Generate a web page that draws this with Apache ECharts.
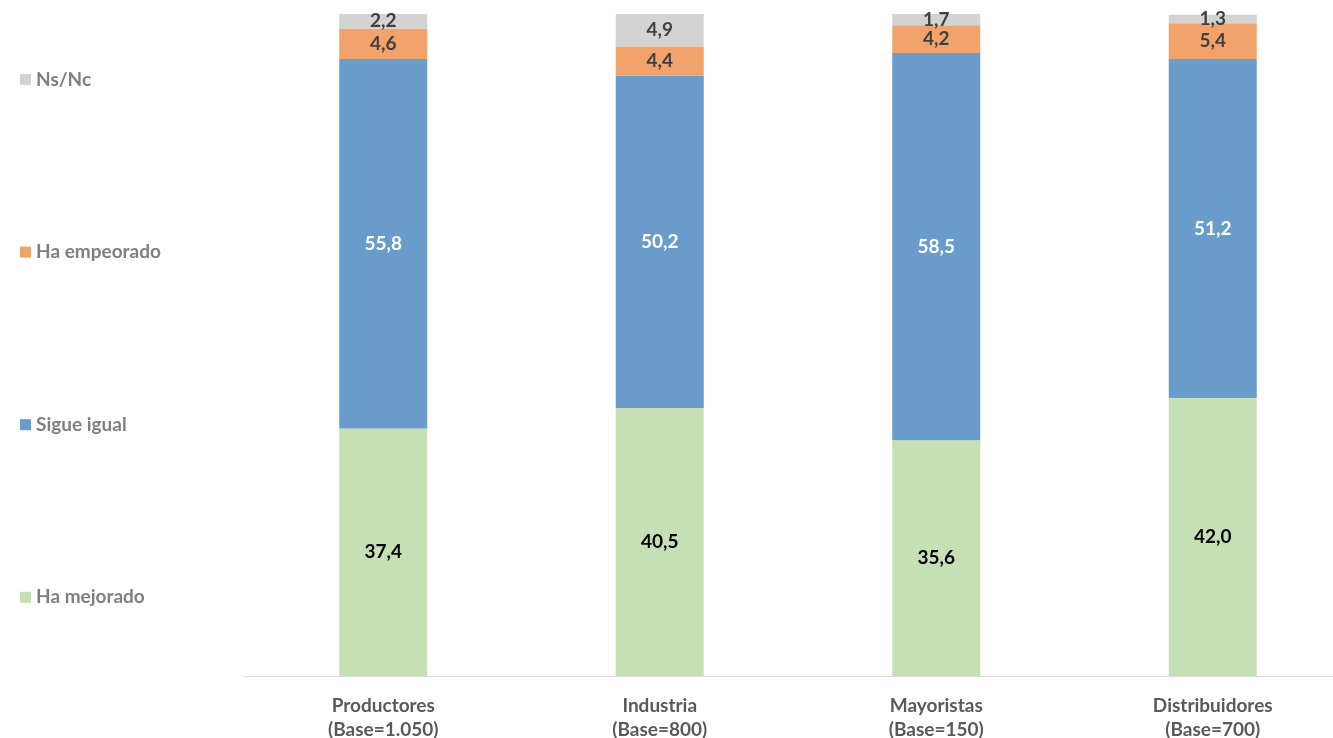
<!DOCTYPE html>
<html><head><meta charset="utf-8">
<script src="https://cdn.jsdelivr.net/npm/echarts@6/dist/echarts.min.js"></script>
<style>html,body{margin:0;padding:0;background:#fff}#c{width:1333px;height:738px}</style>
</head><body><div id="c"></div>
<script>
const categories = ['Productores\n(Base=1.050)', 'Industria\n(Base=800)', 'Mayoristas\n(Base=150)', 'Distribuidores\n(Base=700)'];
const haMejorado = [37.4, 40.5, 35.6, 42.0];
const sigueIgual = [55.8, 50.2, 58.5, 51.2];
const haEmpeorado = [4.6, 4.4, 4.2, 5.4];
const nsNc = [2.2, 4.9, 1.7, 1.3];

const fmt = p => p.value.toFixed(1).replace('.', ',');
const FONT = 'Lato';
function mk(name, data, color, labelColor) {
  return {
    name, type: 'bar', stack: 'total', data, barWidth: 88,
    itemStyle: { color },
    label: { show: true, position: 'inside', formatter: fmt, color: labelColor,
      fontFamily: FONT, fontWeight: 'bold', fontSize: 19 },
    emphasis: { disabled: true }
  };
}
const chart = echarts.init(document.getElementById('c'));
chart.setOption({
  animation: false,
  grid: { left: 245, top: 14, width: 1106, height: 662, outerBoundsMode: 'none', containLabel: false },
  legend: {
    orient: 'vertical', left: 15, top: 65, itemGap: 153.6,
    itemWidth: 11, itemHeight: 11, icon: 'rect',
    data: ['Ns/Nc', 'Ha empeorado', 'Sigue igual', 'Ha mejorado'],
    textStyle: { color: '#7f7f7f', fontFamily: FONT, fontWeight: 'bold', fontSize: 19 },
    selectedMode: false
  },
  xAxis: {
    type: 'category', data: categories,
    axisLine: { lineStyle: { color: '#d9d9d9' } },
    axisTick: { show: false },
    axisLabel: { color: '#595959', fontFamily: FONT, fontWeight: 'bold', fontSize: 19, lineHeight: 24, margin: 18 }
  },
  yAxis: { type: 'value', min: 0, max: 100, show: false, splitLine: { show: false } },
  series: [
    mk('Ha mejorado', haMejorado, '#C5E0B4', '#000000'),
    mk('Sigue igual', sigueIgual, '#699CCB', '#ffffff'),
    mk('Ha empeorado', haEmpeorado, '#F2A36C', '#404040'),
    mk('Ns/Nc', nsNc, '#D3D3D3', '#404040')
  ]
});
</script></body></html>
